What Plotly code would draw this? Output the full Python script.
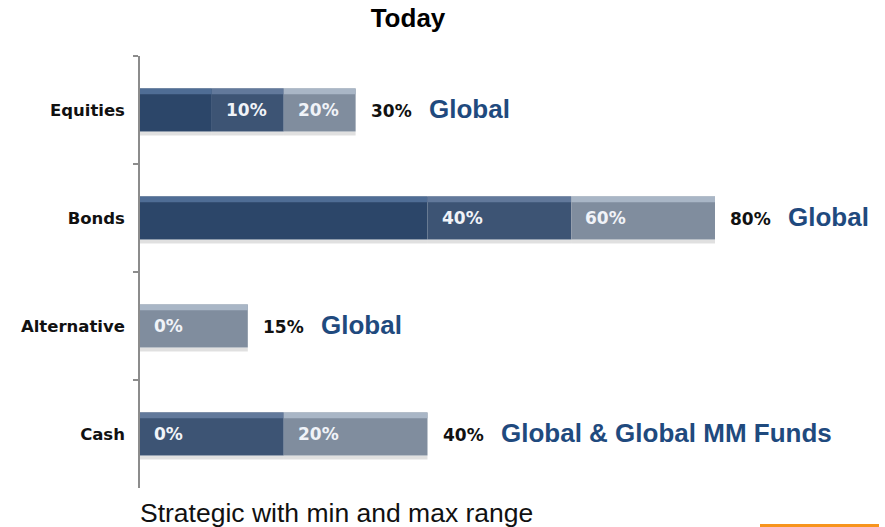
import plotly.graph_objects as go

# Asset classes with strategic allocation range (percent of portfolio)
categories = ["Equities", "Bonds", "Alternative", "Cash"]
min_pct = [10, 40, 0, 0]
strategic_pct = [20, 60, 0, 20]
max_pct = [30, 80, 15, 40]
universe = ["Global", "Global", "Global", "Global & Global MM Funds"]

title_text = "Today"
footnote = "Strategic with min and max range"

# segment colours: below minimum, minimum→strategic, strategic→maximum
seg_colors = ["#2c4669", "#3d5474", "#808d9e"]
seg_highlight = ["#4f6d95", "#62799b", "#a9b6c6"]

BAR_W = 0.40

fig = go.Figure()

segments = [
    ([0] * len(categories), min_pct),
    (min_pct, strategic_pct),
    (strategic_pct, max_pct),
]

for (start, end), col, hl in zip(segments, seg_colors, seg_highlight):
    lengths = [e - s for s, e in zip(start, end)]
    # soft drop shadow under each segment
    fig.add_trace(go.Bar(
        y=categories, x=lengths, base=start, orientation="h",
        width=0.035, offset=BAR_W / 2,
        marker=dict(color="rgba(0,0,0,0.12)", line=dict(width=0)),
        hoverinfo="skip", showlegend=False,
    ))
    # body of the segment
    fig.add_trace(go.Bar(
        y=categories, x=lengths, base=start, orientation="h",
        width=BAR_W, marker=dict(color=col, line=dict(width=0)),
        hoverinfo="skip", showlegend=False,
    ))
    # lighter bevel strip along the top edge
    fig.add_trace(go.Bar(
        y=categories, x=lengths, base=start, orientation="h",
        width=0.055, offset=-BAR_W / 2,
        marker=dict(color=hl, line=dict(width=0)),
        hoverinfo="skip", showlegend=False,
    ))

label_font = dict(family="DejaVu Sans", size=17, color="#f0f3f8")
end_font = dict(family="DejaVu Sans", size=17, color="#111111")
universe_font = dict(family="Liberation Sans, Arial", size=26, color="#1f4a7e")

annotations = []
for cat, lo, mid, hi, uni in zip(categories, min_pct, strategic_pct, max_pct, universe):
    # minimum label at the start of the min→strategic segment
    if mid > lo:
        annotations.append(dict(
            x=lo, y=cat, xref="x", yref="y", text=f"<b>{lo}%</b>",
            showarrow=False, xanchor="left", xshift=12, font=label_font,
        ))
    # strategic label at the start of the strategic→max segment
    annotations.append(dict(
        x=mid, y=cat, xref="x", yref="y", text=f"<b>{mid}%</b>",
        showarrow=False, xanchor="left", xshift=12, font=label_font,
    ))
    # maximum label just past the bar end
    annotations.append(dict(
        x=hi, y=cat, xref="x", yref="y", text=f"<b>{hi}%</b>",
        showarrow=False, xanchor="left", xshift=13, yshift=-1, font=end_font,
    ))
    # investment universe
    annotations.append(dict(
        x=hi, y=cat, xref="x", yref="y", text=f"<b>{uni}</b>",
        showarrow=False, xanchor="left", xshift=71, yshift=1, font=universe_font,
    ))

annotations.append(dict(
    x=0, y=0, xref="paper", yref="paper", text=footnote,
    showarrow=False, xanchor="left", yanchor="middle", yshift=-25, xshift=-2,
    font=dict(family="Liberation Sans, Arial", size=26.5, color="#111111"),
))

PX_PER_UNIT = 575 / 80.0
PLOT_W = 885 - 140 - 15

fig.update_layout(
    width=885, height=527,
    margin=dict(l=140, r=15, t=56, b=39),
    barmode="overlay",
    plot_bgcolor="white", paper_bgcolor="white",
    title=dict(
        text=f"<b>{title_text}</b>", xref="container", yref="container",
        x=408 / 885, y=1 - 18 / 527, xanchor="center", yanchor="middle",
        font=dict(family="Liberation Sans, Arial", size=26, color="#000000"),
    ),
    xaxis=dict(
        range=[0, PLOT_W / PX_PER_UNIT], visible=False, showgrid=False,
        zeroline=False, fixedrange=True,
    ),
    yaxis=dict(
        categoryorder="array", categoryarray=categories,
        autorange="reversed", showgrid=False, zeroline=False,
        showline=True, linecolor="#8c8c8c", linewidth=1.5,
        ticks="outside", tickson="boundaries", ticklen=5,
        tickcolor="#8c8c8c", tickwidth=1.5, ticklabelstandoff=10,
        tickfont=dict(family="DejaVu Sans", size=16.5, color="#111111"),
        tickprefix="<b>", ticksuffix="</b>",
    ),
    annotations=annotations,
    shapes=[dict(
        type="rect", xref="paper", yref="paper",
        x0=(760 - 140) / PLOT_W, x1=(879 - 140) / PLOT_W,
        y0=-45 / 432, y1=-36 / 432,
        fillcolor="#f7941d", line=dict(width=0), layer="above",
    )],
)

fig.write_html("out.html")
